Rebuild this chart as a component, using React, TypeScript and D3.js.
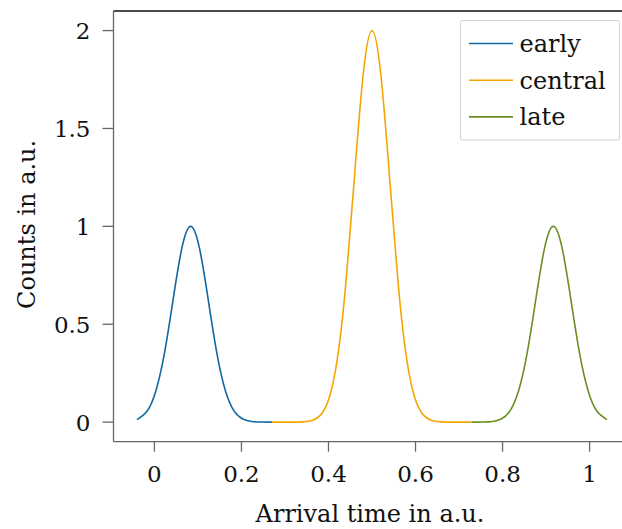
import React from "react";
import * as d3 from "d3";

// Arrival time (x) and counts (y) for each segment
const earlyX = [-0.04, -0.0167, 0.0033, 0.0233, 0.0433, 0.0633, 0.0833, 0.1033, 0.1233, 0.1433, 0.1633, 0.1833, 0.2033, 0.2233, 0.2433, 0.27];
const earlyY = [0.0126, 0.0564, 0.159, 0.355, 0.631, 0.891, 1.0, 0.891, 0.631, 0.355, 0.159, 0.0564, 0.0159, 0.0036, 0.0006, 0.0];

const centralX = [0.27, 0.3, 0.32, 0.34, 0.36, 0.38, 0.4, 0.42, 0.44, 0.46, 0.48, 0.5, 0.52, 0.54, 0.56, 0.58, 0.6, 0.62, 0.64, 0.66, 0.68, 0.7, 0.73];
const centralY = [0.0, 0.0, 0.0002, 0.0013, 0.0071, 0.0318, 0.113, 0.318, 0.71, 1.262, 1.782, 2.0, 1.782, 1.262, 0.71, 0.318, 0.113, 0.0318, 0.0071, 0.0013, 0.0002, 0.0, 0.0];

const lateX = [0.73, 0.7567, 0.7767, 0.7967, 0.8167, 0.8367, 0.8567, 0.8767, 0.8967, 0.9167, 0.9367, 0.9567, 0.9767, 0.9967, 1.0167, 1.04];
const lateY = [0.0, 0.0006, 0.0036, 0.0159, 0.0564, 0.159, 0.355, 0.631, 0.891, 1.0, 0.891, 0.631, 0.355, 0.159, 0.0564, 0.0126];

const seriesNames = ["early", "central", "late"];
const seriesColors = ["#1168a3", "#f5a500", "#6b8e23"];

const xTicks = [0, 0.2, 0.4, 0.6, 0.8, 1];
const yTicks = [0, 0.5, 1, 1.5, 2];

const W = 622;
const H = 529;
const FONT = "'DejaVu Serif', serif";

export default function App() {
  const x = d3.scaleLinear().domain([-0.094, 1.094]).range([113.5, 630.5]);
  const y = d3.scaleLinear().domain([-0.1, 2.1]).range([441.7, 11]);

  const data = [
    earlyX.map((v, i) => [v, earlyY[i]] as [number, number]),
    centralX.map((v, i) => [v, centralY[i]] as [number, number]),
    lateX.map((v, i) => [v, lateY[i]] as [number, number]),
  ];

  const line = d3
    .line<[number, number]>()
    .x((d) => x(d[0]))
    .y((d) => y(d[1]))
    .curve(d3.curveNatural);

  const left = 113.5;
  const bottom = 441.7;
  const top = 11;

  return (
    <svg
      width={W}
      height={H}
      style={{ position: "absolute", left: 0, top: 0, background: "#fff" }}
      fontFamily={FONT}
    >
      <rect x={0} y={0} width={W} height={H} fill="#fff" />
      {/* curves */}
      {data.map((d, i) => (
        <path key={i} d={line(d) || ""} fill="none" stroke={seriesColors[i]} strokeWidth={1.6} />
      ))}

      {/* spines */}
      <line x1={left} x2={W} y1={top} y2={top} stroke="#111" strokeWidth={1.3} />
      <line x1={left} x2={left} y1={top} y2={bottom} stroke="#666" strokeWidth={1.3} />
      <line x1={left} x2={W} y1={bottom} y2={bottom} stroke="#666" strokeWidth={1.3} />

      {/* x ticks */}
      {xTicks.map((t) => (
        <g key={"x" + t}>
          <line x1={x(t)} x2={x(t)} y1={bottom} y2={bottom + 10} stroke="#666" strokeWidth={1.3} />
          <text x={x(t)} y={481.5} textAnchor="middle" fontSize={23} fill="#111">
            {String(t)}
          </text>
        </g>
      ))}

      {/* y ticks */}
      {yTicks.map((t) => (
        <g key={"y" + t}>
          <line x1={left - 11} x2={left} y1={y(t)} y2={y(t)} stroke="#666" strokeWidth={1.3} />
          <text x={90.5} y={y(t) + 8.5} textAnchor="end" fontSize={23} fill="#111">
            {String(t)}
          </text>
        </g>
      ))}

      {/* axis labels */}
      <text x={370} y={521.5} textAnchor="middle" fontSize={24} fill="#111">
        Arrival time in a.u.
      </text>
      <text
        transform={`translate(34.5, ${(top + bottom) / 2 - 2}) rotate(-90)`}
        textAnchor="middle"
        fontSize={24}
        fill="#111"
      >
        Counts in a.u.
      </text>

      {/* legend */}
      <rect x={460.5} y={20.5} width={159} height={119.5} rx={2} fill="#fff" stroke="#d0d0d0" strokeWidth={1} />
      {seriesNames.map((n, i) => (
        <g key={n}>
          <line x1={469} x2={513} y1={43.5 + i * 36.7} y2={43.5 + i * 36.7} stroke={seriesColors[i]} strokeWidth={1.6} />
          <text x={519.5} y={43.5 + i * 36.7 + 8.5} fontSize={24} fill="#111">
            {n}
          </text>
        </g>
      ))}
    </svg>
  );
}
